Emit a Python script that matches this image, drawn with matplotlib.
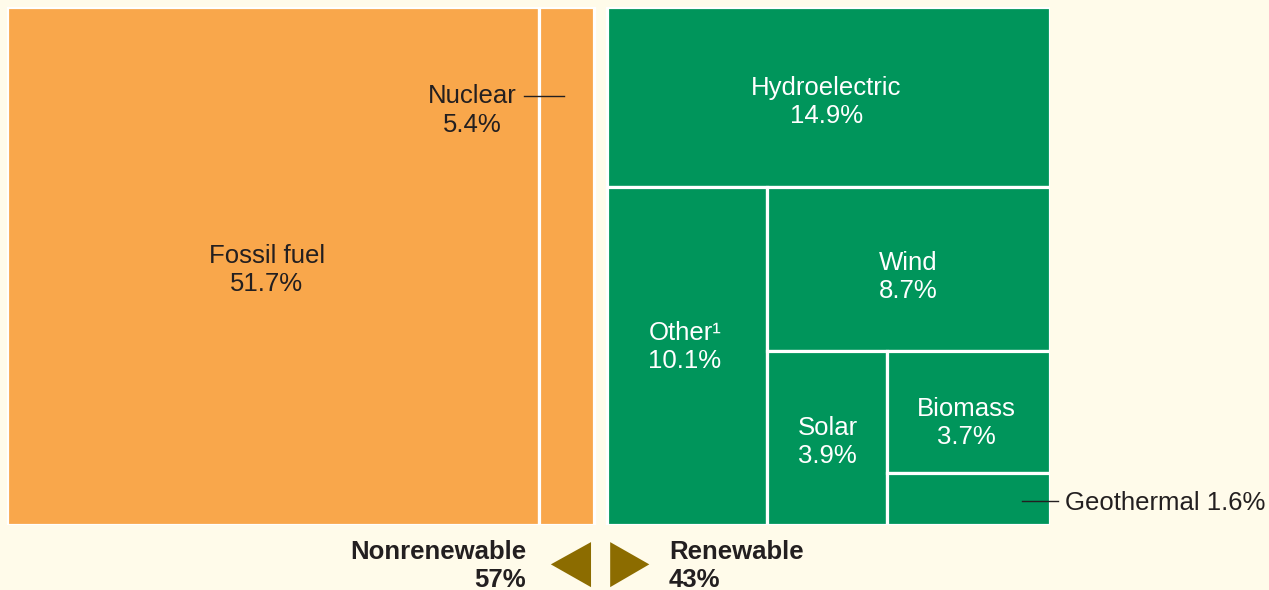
import matplotlib.pyplot as plt
import matplotlib.transforms as mtransforms
from matplotlib.patches import Rectangle, Polygon

plt.rcParams['font.family'] = ['Liberation Sans', 'DejaVu Sans']

# data (percent of total energy)
grupos = ["Nonrenewable", "Renewable"]
grupos_pct = [57, 43]

nao_renov_nomes = ["Fossil fuel", "Nuclear"]
nao_renov_vals = [51.7, 5.4]

renov_nomes = ["Hydroelectric", "Other¹", "Wind", "Solar", "Biomass", "Geothermal"]
renov_vals = [14.9, 10.1, 8.7, 3.9, 3.7, 1.6]
# slice direction for each step of the layout: 'h' = strip on top, 'v' = strip on left
renov_direcoes = ["h", "v", "h", "v", "h"]

cor_fundo = "#FFFBEA"
cor_laranja = "#F9A74B"
cor_verde = "#00955B"
cor_seta = "#8C6C00"
cor_texto = "#231F20"
tam_fonte = 18.5
gap = 1.26


def fatiar(x0, y0, w, h, valores, direcoes):
    # slice-and-dice treemap layout
    rects = []
    restante = sum(valores)
    for i, v in enumerate(valores):
        if i == len(valores) - 1:
            rects.append((x0, y0, w, h))
            break
        frac = v / restante
        if direcoes[i] == "h":
            hh = h * frac
            rects.append((x0, y0, w, hh))
            y0 += hh
            h -= hh
        else:
            ww = w * frac
            rects.append((x0, y0, ww, h))
            x0 += ww
            w -= ww
        restante -= v
    return rects


fig = plt.figure(figsize=(12.69, 5.90), dpi=100, facecolor=cor_fundo)
ax = fig.add_axes([7 / 1269, 65 / 590, 1043 / 1269, 518 / 590])
ax.set_xlim(0, 100 + gap)
ax.set_ylim(100, 0)
ax.axis("off")

px_x = (100 + gap) / 1043  # data units per pixel


def desloc(dx, dy):
    # offset in pixels (dy positive = down)
    return mtransforms.offset_copy(ax.transData, fig=fig, x=dx, y=-dy, units="dots")


rects_nr = fatiar(0, 0, grupos_pct[0], 100, nao_renov_vals, ["v"])
rects_r = fatiar(grupos_pct[0] + gap, 0, grupos_pct[1], 100, renov_vals, renov_direcoes)

for (x, y, w, h) in rects_nr:
    ax.add_patch(Rectangle((x, y), w, h, facecolor=cor_laranja, edgecolor="white", linewidth=2.3))
for (x, y, w, h) in rects_r:
    ax.add_patch(Rectangle((x, y), w, h, facecolor=cor_verde, edgecolor="white", linewidth=2.3))

# labels inside tiles
ajustes = {"Fossil fuel": (-6, 4), "Hydroelectric": (-2, 5), "Other¹": (-2, -9),
           "Wind": (0, 8), "Solar": (1, 4), "Biomass": (-2, 11)}
espaco = 1.25

x, y, w, h = rects_nr[0]
dx, dy = ajustes["Fossil fuel"]
ax.text(x + w / 2, y + h / 2, f"Fossil fuel\n{nao_renov_vals[0]}%", ha="center", va="center",
        fontsize=tam_fonte, color=cor_texto, linespacing=espaco, transform=desloc(dx, dy))

for nome, v, (x, y, w, h) in zip(renov_nomes[:-1], renov_vals[:-1], rects_r[:-1]):
    dx, dy = ajustes[nome]
    ax.text(x + w / 2, y + h / 2, f"{nome}\n{v}%", ha="center", va="center",
            fontsize=tam_fonte, color="white", linespacing=espaco, transform=desloc(dx, dy))

# nuclear callout
x, y, w, h = rects_nr[1]
ax.plot([x - 15 * px_x, x + w / 2 - 2 * px_x], [17.2, 17.2], color=cor_texto, lw=1.0)
ax.text(x, 17.2, f"{nao_renov_nomes[1]}\n{nao_renov_vals[1]}%", ha="right", va="top",
        multialignment="center", fontsize=tam_fonte, color=cor_texto, linespacing=espaco,
        transform=desloc(-22, -12))

# geothermal callout
x, y, w, h = rects_r[-1]
ax.plot([x + w * 0.83, x + w + 8 * px_x], [y + h / 2, y + h / 2], color=cor_texto, lw=1.0,
        clip_on=False, transform=desloc(0, 2))
ax.text(x + w, y + h / 2, f"{renov_nomes[-1]} {renov_vals[-1]}%", ha="left", va="center",
        fontsize=tam_fonte, color=cor_texto, transform=desloc(15, 4), clip_on=False)

# group labels and arrows below
limite = grupos_pct[0]
ax.text(limite, 105.3, grupos[0], ha="right", va="center", fontsize=tam_fonte, fontweight="bold",
        color=cor_texto, transform=desloc(-68, 0), clip_on=False)
ax.text(limite, 110.6, f"{grupos_pct[0]}%", ha="right", va="center", fontsize=tam_fonte,
        fontweight="bold", color=cor_texto, transform=desloc(-68, 0), clip_on=False)
ax.text(limite + gap, 105.3, grupos[1], ha="left", va="center", fontsize=tam_fonte, fontweight="bold",
        color=cor_texto, transform=desloc(62, 0), clip_on=False)
ax.text(limite + gap, 110.6, f"{grupos_pct[1]}%", ha="left", va="center", fontsize=tam_fonte,
        fontweight="bold", color=cor_texto, transform=desloc(62, 0), clip_on=False)

ax.add_patch(Polygon([(limite - 0.3, 103.3), (limite - 0.3, 112.0), (limite - 4.2, 107.6)],
                     closed=True, facecolor=cor_seta, edgecolor="none", clip_on=False))
ax.add_patch(Polygon([(limite + gap + 0.3, 103.3), (limite + gap + 0.3, 112.0), (limite + gap + 4.1, 107.6)],
                     closed=True, facecolor=cor_seta, edgecolor="none", clip_on=False))

fig.savefig("out.png", dpi=100, facecolor=cor_fundo)
